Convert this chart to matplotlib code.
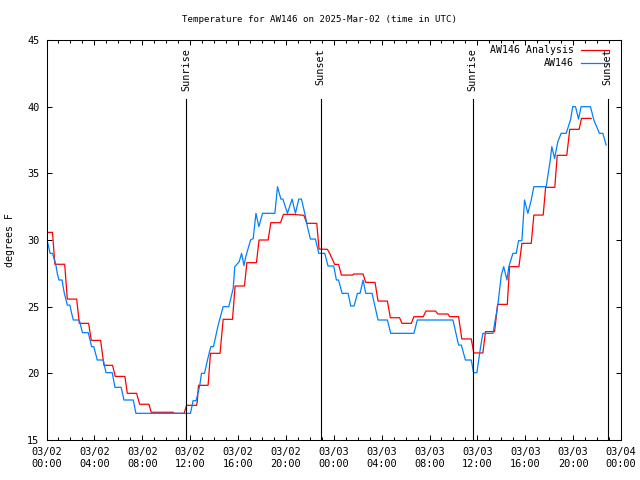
import matplotlib
matplotlib.use("Agg")
import matplotlib.pyplot as plt
from matplotlib.ticker import MultipleLocator

# hours since 2025-03-02 00:00 UTC
analysis_hours = [0.0, 0.5, 0.7, 1.52, 1.74, 2.52, 2.74, 3.52, 3.74, 4.52, 4.8, 5.52, 5.74,
                  6.55, 6.75, 7.53, 7.78, 8.56, 8.75, 10.59, 10.62, 11.5, 11.7, 12.54, 12.6,
                  12.7, 13.5, 13.7, 14.5, 14.76, 15.54, 15.76, 16.54, 16.74, 17.54, 17.76,
                  18.52, 18.74, 19.55, 19.8, 20.6, 21.5, 21.75, 22.58, 22.77, 23.47, 23.7,
                  24.08, 24.4, 24.64, 25.6, 25.65, 26.45, 26.67, 27.45, 27.7, 28.48, 28.73,
                  29.5, 29.7, 30.48, 30.7, 31.48, 31.7, 32.5, 32.7, 33.54, 33.68, 34.43,
                  34.7, 35.49, 35.7, 36.46, 36.68, 37.44, 37.69, 38.5, 38.69, 39.47, 39.72,
                  40.5, 40.72, 41.5, 41.7, 42.47, 42.67, 43.47, 43.72, 44.5, 44.7, 45.5]
analysis_temps = [30.57, 30.57, 28.18, 28.18, 25.57, 25.57, 23.75, 23.75, 22.47, 22.47, 20.6,
                  20.6, 19.77, 19.77, 18.5, 18.5, 17.68, 17.68, 17.08, 17.08, 17.0, 17.0,
                  17.6, 17.6, 17.9, 19.1, 19.1, 21.5, 21.5, 24.05, 24.05, 26.55, 26.55, 28.3,
                  28.3, 30.0, 30.0, 31.3, 31.3, 31.92, 31.92, 31.85, 31.25, 31.25, 29.32,
                  29.3, 28.92, 28.17, 28.17, 27.37, 27.37, 27.45, 27.45, 26.82, 26.82, 25.42,
                  25.42, 24.17, 24.17, 23.75, 23.75, 24.25, 24.25, 24.67, 24.67, 24.45, 24.45,
                  24.25, 24.25, 22.58, 22.58, 21.53, 21.53, 23.13, 23.13, 25.17, 25.17, 28.0,
                  28.0, 29.75, 29.75, 31.87, 31.87, 33.95, 33.95, 36.35, 36.35, 38.3, 38.3,
                  39.12, 39.12]

obs_hours = [0.0, 0.1, 0.3, 0.5, 0.77, 0.9, 1.04, 1.3, 1.46, 1.74, 1.95, 2.1, 2.24, 2.74,
             3.0, 3.49, 3.77, 3.95, 4.24, 4.74, 4.97, 5.49, 5.72, 6.24, 6.47, 7.25, 7.47,
             11.98, 12.03, 12.25, 12.5, 12.8, 12.95, 13.2, 13.45, 13.73, 13.95, 14.34,
             14.76, 15.23, 15.6, 15.73, 16.1, 16.3, 16.5, 16.65, 17.05, 17.27, 17.5, 17.74,
             18.05, 19.08, 19.3, 19.58, 19.75, 20.13, 20.52, 20.8, 21.08, 21.3, 21.64, 21.8,
             22.05, 22.47, 22.75, 23.25, 23.52, 24.0, 24.22, 24.4, 24.7, 25.2, 25.42, 25.7,
             25.98, 26.2, 26.45, 26.67, 27.2, 27.7, 28.48, 28.76, 30.7, 30.98, 33.96, 34.43,
             34.66, 35.0, 35.49, 35.68, 35.96, 36.27, 36.46, 37.3, 37.71, 38.0, 38.2, 38.47,
             38.63, 38.97, 39.25, 39.44, 39.72, 39.94, 40.22, 40.5, 40.72, 41.75, 42.09,
             42.22, 42.45, 42.72, 43.0, 43.42, 43.78, 43.97, 44.2, 44.45, 44.67, 45.45,
             45.73, 46.2, 46.48, 46.76]
obs_temps = [30.0, 29.8, 29.0, 29.0, 28.2, 27.5, 27.0, 27.0, 26.13, 25.12, 25.12, 24.5, 24.0,
             24.0, 23.05, 23.05, 22.0, 22.0, 21.0, 21.0, 20.05, 20.05, 18.95, 18.95, 18.0,
             18.0, 17.0, 17.0, 17.0, 17.95, 17.95, 19.05, 20.0, 20.0, 21.0, 22.0, 22.0, 23.6,
             25.0, 25.0, 26.37, 28.0, 28.37, 29.0, 28.08, 28.75, 30.0, 30.1, 32.0, 31.0,
             32.0, 32.0, 34.0, 33.07, 33.07, 32.0, 33.07, 32.0, 33.07, 33.07, 31.75, 31.0,
             30.07, 30.07, 29.0, 29.0, 28.05, 28.05, 27.0, 27.0, 26.0, 26.0, 25.05, 25.05,
             26.0, 26.0, 27.0, 26.0, 26.0, 24.0, 24.0, 23.0, 23.0, 24.0, 24.0, 22.12, 22.12,
             21.0, 21.0, 20.05, 20.05, 22.0, 23.0, 23.0, 25.12, 27.37, 28.0, 27.0, 28.0,
             29.0, 29.0, 29.95, 29.95, 33.0, 32.0, 33.0, 34.0, 34.0, 36.0, 37.0, 36.12,
             37.37, 38.0, 38.0, 39.0, 40.0, 40.0, 39.07, 40.0, 40.0, 39.0, 38.0, 38.0, 37.12]

event_hours = [11.65, 22.9, 35.6, 46.88]
event_names = ["Sunrise", "Sunset", "Sunrise", "Sunset"]

tick_hours = list(range(0, 49, 4))
tick_labels = ["03/02\n00:00", "03/02\n04:00", "03/02\n08:00", "03/02\n12:00",
               "03/02\n16:00", "03/02\n20:00", "03/03\n00:00", "03/03\n04:00",
               "03/03\n08:00", "03/03\n12:00", "03/03\n16:00", "03/03\n20:00",
               "03/04\n00:00"]

plt.rcParams['font.family'] = ['DejaVu Sans Mono']
plt.rcParams['font.size'] = 7

fig = plt.figure(figsize=(6.4, 4.8), dpi=100)
ax = fig.add_axes([46.5 / 640, 40 / 480, 574.5 / 640, 400 / 480])

ax.plot(analysis_hours, analysis_temps, color='#ff0000', lw=0.9)
ax.plot(obs_hours, obs_temps, color='#0080ff', lw=0.9)

for h, name in zip(event_hours, event_names):
    ax.plot([h, h], [15, 40.55], color='black', lw=0.8)
    ax.text(h, 44.4, name, rotation=90, ha='center', va='top', fontsize=7.3)

ax.set_xlim(0, 48)
ax.set_ylim(15, 45)
ax.set_xticks(tick_hours)
ax.set_xticklabels(tick_labels, fontsize=7.4)
ax.xaxis.set_minor_locator(MultipleLocator(1))
ax.set_yticks(range(15, 46, 5))
ax.tick_params(axis='y', labelsize=7.4)
ax.tick_params(which='major', direction='in', length=3.6, width=0.75, top=True, right=True, pad=5)
ax.tick_params(which='minor', direction='in', length=2.0, width=0.75, top=True, bottom=True)
for s in ax.spines.values():
    s.set_linewidth(0.75)

# legend drawn gnuplot-style: right-justified text, sample to the right
for y, label, col in [(0.975, "AW146 Analysis", '#ff0000'), (0.942, "AW146", '#0080ff')]:
    ax.text(0.918, y, label, transform=ax.transAxes, ha='right', va='center', fontsize=7.1)
    ax.plot([0.930, 0.979], [y, y], transform=ax.transAxes, color=col, lw=0.9, clip_on=False)

fig.text(0.5, 1 - 19 / 480, "Temperature for AW146 on 2025-Mar-02 (time in UTC)",
         ha='center', va='center', fontsize=6.6)
fig.text(10 / 640, 0.5, "degrees F", rotation=90, ha='center', va='center', fontsize=7.1)

fig.savefig("out.png", dpi=100)
